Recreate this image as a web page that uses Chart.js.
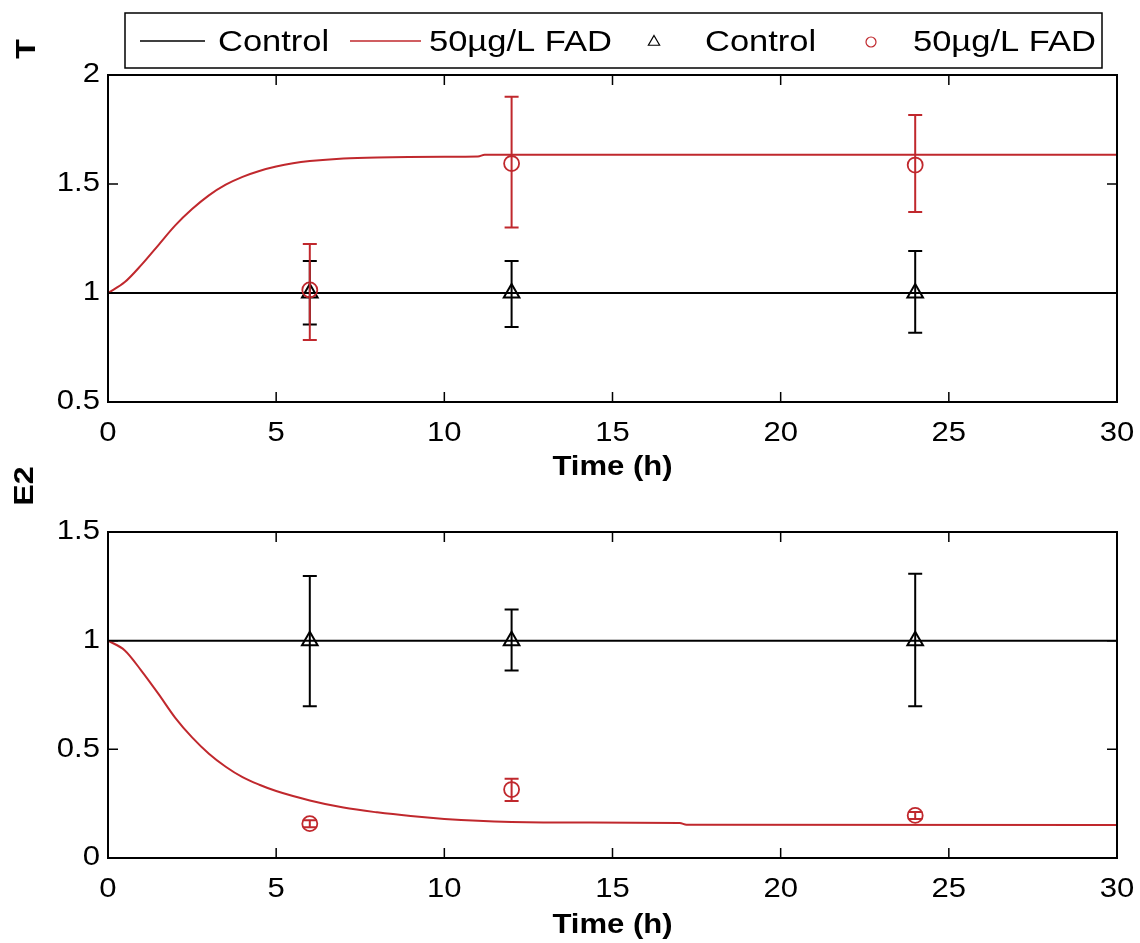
<!DOCTYPE html>
<html>
<head>
<meta charset="utf-8">
<script src="https://cdn.jsdelivr.net/npm/chart.js@4.4.0/dist/chart.umd.min.js"></script>
<style>
  body { margin: 0; background: #fff; }
  #wrap { position: relative; width: 1140px; height: 943px; }
  .panel { position: absolute; left: 0; width: 1140px; }
  #topBox { top: 0; height: 500px; }
  #botBox { top: 440px; height: 503px; }
</style>
</head>
<body>
<div id="wrap">
  <div class="panel" id="topBox"><canvas id="chartT"></canvas></div>
  <div class="panel" id="botBox"><canvas id="chartE2"></canvas></div>
</div>
<script>
// --- DATA ---
const sampleTimes = [6, 12, 24];

const ctrlTime = [0, 30];
const ctrlLevel = [1, 1];

// T panel
const tModelTime = [0, 0.5, 1, 1.5, 2, 2.5, 3, 3.5, 4, 4.5, 5, 5.5, 6, 7, 8, 10, 11, 11.2, 30];
const tFadModel = [1.0, 1.05, 1.13, 1.22, 1.31, 1.385, 1.448, 1.497, 1.533, 1.56, 1.58, 1.595, 1.605, 1.617, 1.622, 1.625, 1.626, 1.634, 1.634];
const tControlMean = [1.0, 1.0, 1.0];
const tControlLow = [0.856, 0.844, 0.818];
const tControlHigh = [1.147, 1.147, 1.193];
const tFadMean = [1.014, 1.594, 1.587];
const tFadLow = [0.784, 1.30, 1.372];
const tFadHigh = [1.225, 1.90, 1.816];

// E2 panel
const e2ModelTime = [0, 0.5, 1, 1.5, 2, 2.5, 3, 3.5, 4, 4.5, 5, 6, 7, 8, 9, 10, 11, 12, 14, 17, 17.2, 30];
const e2FadModel = [1.0, 0.955, 0.86, 0.755, 0.645, 0.555, 0.48, 0.42, 0.372, 0.337, 0.308, 0.265, 0.232, 0.21, 0.193, 0.18, 0.171, 0.166, 0.163, 0.161, 0.153, 0.152];
const e2ControlMean = [1.0, 1.0, 1.0];
const e2ControlLow = [0.698, 0.863, 0.698];
const e2ControlHigh = [1.297, 1.143, 1.308];
const e2FadMean = [0.158, 0.315, 0.196];
const e2FadLow = [0.142, 0.262, 0.18];
const e2FadHigh = [0.174, 0.365, 0.212];

// Ticks & labels
const xTickValues = [0, 5, 10, 15, 20, 25, 30];
const yTicksT = [0.5, 1, 1.5, 2];
const yTicksE2 = [0, 0.5, 1, 1.5];
const legendLabels = ['Control', '50µg/L FAD', 'Control', '50µg/L FAD'];

// --- STYLE ---
const RED = '#c0282d';
const FONT = "'Liberation Sans', Arial, Helvetica, sans-serif";
const WIDE = 1.15;
const TICK_LEN = 10;
const CAP = 7;

const pairs = (xs, ys) => xs.map((x, i) => ({ x: x, y: ys[i] }));

// --- PLUGINS ---
// MATLAB text looks wider than Arial, stretch glyphs a bit
const wideText = {
    id: 'wideText',
    beforeDraw(chart) {
        const ctx = chart.ctx;
        if (ctx._wide) return;
        const orig = ctx.fillText;
        ctx.fillText = function (text, x, y) {
            this.save();
            this.translate(x, y);
            this.scale(WIDE, 1);
            orig.call(this, text, 0, 0);
            this.restore();
        };
        ctx._wide = true;
    }
};

const errorBars = {
    id: 'errorBars',
    afterDatasetsDraw(chart) {
        const { ctx, scales: { x, y } } = chart;
        ctx.save();
        chart.data.datasets.forEach(ds => {
            if (!ds.errLow) return;
            ctx.strokeStyle = ds.borderColor;
            ctx.lineWidth = 2;
            ctx.beginPath();
            ds.data.forEach((p, j) => {
                const px = x.getPixelForValue(p.x);
                const lo = y.getPixelForValue(ds.errLow[j]);
                const hi = y.getPixelForValue(ds.errHigh[j]);
                ctx.moveTo(px, lo); ctx.lineTo(px, hi);
                ctx.moveTo(px - CAP, lo); ctx.lineTo(px + CAP, lo);
                ctx.moveTo(px - CAP, hi); ctx.lineTo(px + CAP, hi);
            });
            ctx.stroke();
        });
        ctx.restore();
    }
};

const axisBox = {
    id: 'axisBox',
    afterDraw(chart) {
        const { ctx, chartArea: a, scales: { x, y } } = chart;
        ctx.save();
        ctx.strokeStyle = '#000';
        ctx.lineWidth = 2;
        ctx.strokeRect(a.left, a.top, a.right - a.left, a.bottom - a.top);
        ctx.lineWidth = 1.5;
        ctx.beginPath();
        x.ticks.forEach(t => {
            const px = x.getPixelForValue(t.value);
            ctx.moveTo(px, a.bottom); ctx.lineTo(px, a.bottom - TICK_LEN);
            ctx.moveTo(px, a.top); ctx.lineTo(px, a.top + TICK_LEN);
        });
        y.ticks.forEach(t => {
            const py = y.getPixelForValue(t.value);
            ctx.moveTo(a.left, py); ctx.lineTo(a.left + TICK_LEN, py);
            ctx.moveTo(a.right, py); ctx.lineTo(a.right - TICK_LEN, py);
        });
        ctx.stroke();

        // rotated y label (sits above the axis like in the figure)
        const lab = chart.options.plugins.sideLabel;
        ctx.translate(lab.x, lab.y);
        ctx.rotate(-Math.PI / 2);
        ctx.fillStyle = '#000';
        ctx.font = `bold 28px ${FONT}`;
        ctx.textAlign = 'center';
        ctx.textBaseline = 'middle';
        ctx.fillText(lab.text, 0, 0);
        ctx.restore();
    }
};

// legend box drawn by hand, items read from datasets
const legendSlots = [
    { from: 140, to: 205, text: 218 },
    { from: 350, to: 421, text: 429 },
    { mark: 654, text: 705 },
    { mark: 871, text: 913 }
];
const boxLegend = {
    id: 'boxLegend',
    afterDraw(chart) {
        const ctx = chart.ctx;
        const cy = 41;
        ctx.save();
        ctx.fillStyle = '#fff';
        ctx.fillRect(125, 13, 977, 55);
        ctx.strokeStyle = '#000';
        ctx.lineWidth = 1.5;
        ctx.strokeRect(125, 13, 977, 55);
        chart.data.datasets.forEach((ds, i) => {
            const s = legendSlots[i];
            ctx.strokeStyle = ds.borderColor;
            if (ds.showLine) {
                ctx.lineWidth = 1.5;
                ctx.beginPath();
                ctx.moveTo(s.from, cy); ctx.lineTo(s.to, cy);
                ctx.stroke();
            } else {
                ctx.fillStyle = 'rgba(0,0,0,0)';
                ctx.lineWidth = 1.2;
                Chart.helpers.drawPoint(ctx, {
                    pointStyle: ds.pointStyle,
                    radius: ds.pointStyle === 'triangle' ? 6.5 : 5,
                    borderWidth: 1.2,
                    rotation: 0
                }, s.mark, cy + 1);
            }
            ctx.fillStyle = '#000';
            ctx.font = `30px ${FONT}`;
            ctx.textAlign = 'left';
            ctx.textBaseline = 'middle';
            ctx.fillText(ds.label, s.text, cy + 2);
        });
        ctx.restore();
    }
};

// --- CHART BUILDER ---
function buildPanel(canvasId, cfg) {
    const datasets = [
        {
            label: legendLabels[0], data: pairs(ctrlTime, ctrlLevel), showLine: true,
            borderColor: '#000', borderWidth: 2, pointRadius: 0, order: 4
        },
        {
            label: legendLabels[1], data: pairs(cfg.modelTime, cfg.model), showLine: true,
            borderColor: RED, borderWidth: 2, pointRadius: 0, cubicInterpolationMode: 'monotone', order: 3
        },
        {
            label: legendLabels[2], data: pairs(sampleTimes, cfg.ctrlMean), showLine: false,
            pointStyle: 'triangle', pointRadius: 9, borderColor: '#000', backgroundColor: 'rgba(0,0,0,0)',
            pointBorderWidth: 2, errLow: cfg.ctrlLow, errHigh: cfg.ctrlHigh, order: 2
        },
        {
            label: legendLabels[3], data: pairs(sampleTimes, cfg.fadMean), showLine: false,
            pointStyle: 'circle', pointRadius: 7.5, borderColor: RED, backgroundColor: 'rgba(0,0,0,0)',
            pointBorderWidth: 1.8, errLow: cfg.fadLow, errHigh: cfg.fadHigh, order: 1
        }
    ];

    return new Chart(document.getElementById(canvasId), {
        type: 'scatter',
        data: { datasets: datasets },
        options: {
            responsive: true,
            maintainAspectRatio: false,
            animation: false,
            layout: { padding: { top: cfg.top, right: 23, left: 0, bottom: 0 } },
            plugins: {
                legend: { display: false },
                tooltip: { enabled: false },
                sideLabel: cfg.sideLabel
            },
            scales: {
                x: {
                    type: 'linear', min: 0, max: 30,
                    afterBuildTicks: s => { s.ticks = xTickValues.map(v => ({ value: v })); },
                    // the "30" label may hang past the box, like in the figure
                    afterFit: s => { s.height = cfg.xHeight; s.paddingLeft = 0; s.paddingRight = 0; },
                    grid: { display: false, drawTicks: false },
                    border: { display: false },
                    ticks: { autoSkip: false, maxRotation: 0, color: '#000', padding: 15, font: { family: FONT, size: 27 } },
                    title: {
                        display: true, text: 'Time (h)', color: '#000',
                        font: { family: FONT, size: 27, weight: 'bold' },
                        padding: { top: 0, bottom: cfg.titlePad }
                    }
                },
                y: {
                    type: 'linear', min: cfg.yMin, max: cfg.yMax,
                    afterBuildTicks: s => { s.ticks = cfg.yTicks.map(v => ({ value: v })); },
                    afterFit: s => { s.width = 108; },
                    grid: { display: false, drawTicks: false },
                    border: { display: false },
                    ticks: { color: '#000', padding: 8, font: { family: FONT, size: 27 }, callback: v => String(v) }
                }
            }
        },
        plugins: cfg.withLegend ? [wideText, errorBars, axisBox, boxLegend] : [wideText, errorBars, axisBox]
    });
}

// --- BAŞLANGIÇ ---
buildPanel('chartT', {
    top: 75, xHeight: 98, titlePad: 16,
    yMin: 0.5, yMax: 2, yTicks: yTicksT,
    modelTime: tModelTime, model: tFadModel,
    ctrlMean: tControlMean, ctrlLow: tControlLow, ctrlHigh: tControlHigh,
    fadMean: tFadMean, fadLow: tFadLow, fadHigh: tFadHigh,
    sideLabel: { text: 'T', x: 27, y: 49 },
    withLegend: true
});

buildPanel('chartE2', {
    top: 92, xHeight: 85, titlePad: 1,
    yMin: 0, yMax: 1.5, yTicks: yTicksE2,
    modelTime: e2ModelTime, model: e2FadModel,
    ctrlMean: e2ControlMean, ctrlLow: e2ControlLow, ctrlHigh: e2ControlHigh,
    fadMean: e2FadMean, fadLow: e2FadLow, fadHigh: e2FadHigh,
    sideLabel: { text: 'E2', x: 25, y: 46 },
    withLegend: false
});
</script>
</body>
</html>
